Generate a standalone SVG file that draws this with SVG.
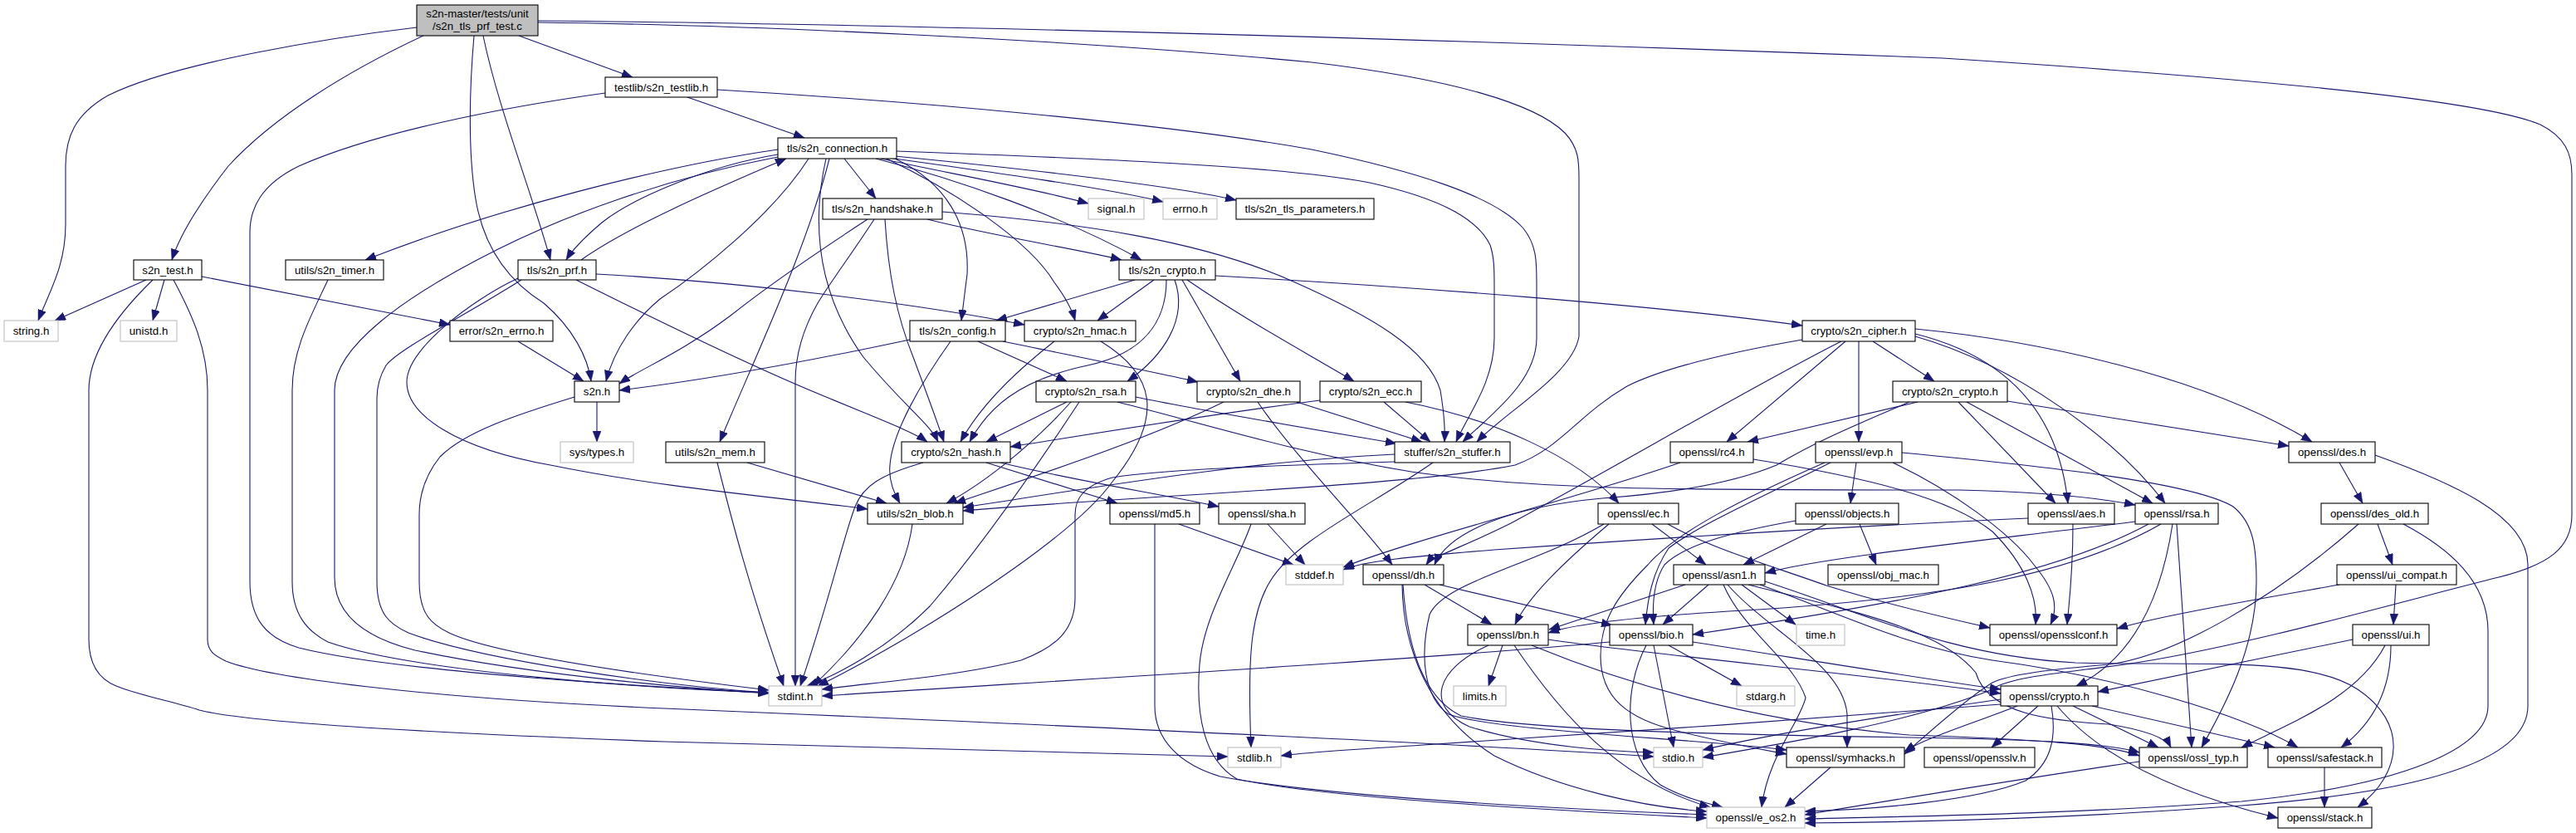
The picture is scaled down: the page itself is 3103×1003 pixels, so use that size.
<svg xmlns="http://www.w3.org/2000/svg" width="3103" height="1003" viewBox="0 0 3103 1003">
<style>
.n rect{fill:#fff;stroke:#000;stroke-width:1.1}
.g rect{fill:#fff;stroke:#bfbfbf;stroke-width:1.1}
text{font-family:"Liberation Sans",Arial,Helvetica,sans-serif;font-size:13.3px;text-anchor:middle;fill:#000}
.e path{fill:none;stroke:#191970;stroke-width:1.1;marker-end:url(#arr)}
</style>
<defs>
<marker id="arr" viewBox="0 0 13 10" refX="13" refY="5" markerWidth="13" markerHeight="10" markerUnits="userSpaceOnUse" orient="auto"><path d="M0,0 L13,5 L0,10 Z" fill="#191970" stroke="#191970" stroke-width="0.5"/></marker>
</defs>
<rect x="0" y="0" width="3103" height="1003" fill="#fff"/>
<g id="edges" class="e">
<path d="M502,33 C400,45 210,75 130,115 C90,138 79,165 79,200 L79,270 C79,320 60,350 46,386"/>
<path d="M510,43 C420,85 330,140 275,200 C240,245 216,285 207,313"/>
<path d="M571,43 C566,100 563,180 573,240 C583,300 615,340 655,365 C690,395 708,430 712,459"/>
<path d="M582,43 C600,130 640,230 663,313"/>
<path d="M625,43 L762,93"/>
<path d="M648,27 C900,30 1300,48 1580,75 C1750,95 1850,125 1885,160 C1902,178 1902,195 1902,215 L1902,405 C1895,450 1815,495 1779,532"/>
<path d="M648,25 C1000,28 1600,42 2340,70 C2800,100 3000,125 3060,150 C3090,165 3098,185 3098,210 L3098,620 C3098,660 3070,680 3010,695 C2900,722 2700,780 2560,800 C2470,812 2420,815 2395,832 C2300,870 2150,895 2051,912"/>
<path d="M176,337 L66,386"/>
<path d="M198,337 L184,386"/>
<path d="M184,337 C150,370 107,420 107,470 L107,770 C107,800 120,818 140,826 C170,838 210,845 240,855 C300,870 500,882 800,893 C1100,903 1350,908 1479,911"/>
<path d="M209,337 C232,380 250,420 250,470 L250,770 C250,785 260,790 272,796 C320,815 500,840 800,853 C1200,870 1700,892 1992,911"/>
<path d="M243,333 L542,391"/>
<path d="M828,117 L969,166"/>
<path d="M864,108 C1100,122 1400,148 1580,180 C1700,205 1800,235 1835,275 C1851,295 1851,315 1851,340 L1851,407 C1851,460 1795,500 1762,532"/>
<path d="M729,112 C600,130 450,160 360,200 C315,222 301,250 301,280 L301,700 C301,745 320,768 360,780 C480,810 800,828 926,834"/>
<path d="M1017,191 L1055,239"/>
<path d="M1061,191 C1150,210 1250,228 1311,245"/>
<path d="M1070,190 C1200,208 1330,226 1401,243"/>
<path d="M1078,188 C1250,205 1420,225 1489,241"/>
<path d="M1055,191 C1150,215 1280,260 1375,313"/>
<path d="M1080,182 C1300,190 1550,200 1650,220 C1740,240 1780,265 1795,295 C1800,310 1800,325 1800,345 L1800,407 C1800,460 1768,500 1754,532"/>
<path d="M937,186 C850,200 760,240 725,268 C705,285 690,300 682,313"/>
<path d="M937,180 C800,200 600,250 440,313"/>
<path d="M937,189 C800,215 680,260 600,300 C480,360 403,420 403,470 L403,695 C403,740 440,768 500,783 C650,815 850,830 926,835"/>
<path d="M974,191 C930,260 840,330 795,360 C765,385 740,420 730,459"/>
<path d="M999,191 C972,300 905,440 867,532"/>
<path d="M1078,191 C1140,220 1168,270 1165,330 L1158,386"/>
<path d="M1068,191 C1150,230 1240,290 1270,340 C1285,360 1292,375 1295,386"/>
<path d="M995,191 C975,280 990,360 1040,430 C1090,490 1120,510 1130,532"/>
<path d="M1117,264 C1200,285 1300,300 1351,313"/>
<path d="M1045,264 C990,300 930,340 880,380 C820,425 770,445 746,462"/>
<path d="M1053,264 C1030,300 1000,340 985,365 C965,400 958,430 958,460 L958,826"/>
<path d="M1066,264 C1070,330 1080,380 1100,430 C1115,470 1128,505 1137,532"/>
<path d="M1135,255 C1300,268 1450,290 1560,340 C1650,380 1720,420 1735,470 C1740,500 1741,515 1740,532"/>
<path d="M1367,337 L1200,386"/>
<path d="M1390,337 L1322,386"/>
<path d="M1405,337 C1405,385 1380,425 1310,440 C1225,458 1190,492 1168,532"/>
<path d="M1415,337 C1432,385 1400,430 1358,459"/>
<path d="M1424,337 L1494,459"/>
<path d="M1430,337 C1500,385 1565,420 1631,459"/>
<path d="M1464,332 C1700,345 2000,368 2171,392"/>
<path d="M700,313 C760,270 880,220 947,191"/>
<path d="M718,330 C900,340 1100,365 1234,391"/>
<path d="M694,337 C760,370 900,440 1000,480 C1060,505 1100,520 1117,532"/>
<path d="M624,335 C570,360 490,420 490,460 C490,500 550,540 663,560 C800,588 950,600 1045,613"/>
<path d="M628,337 C560,380 480,420 465,440 C456,455 454,470 454,480 L454,700 C454,740 470,752 492,762 C580,795 800,826 926,834"/>
<path d="M624,411 L703,459"/>
<path d="M1096,409 C950,440 830,460 746,470"/>
<path d="M1178,411 L1285,459"/>
<path d="M1208,411 C1300,430 1400,450 1443,460"/>
<path d="M1145,411 C1110,460 1075,520 1072,560 C1070,580 1078,595 1084,606"/>
<path d="M1270,411 C1220,450 1180,490 1157,532"/>
<path d="M1326,411 C1390,450 1405,500 1340,580 C1290,650 1100,770 985,826"/>
<path d="M1285,484 L1188,532"/>
<path d="M1290,484 C1240,540 1180,585 1140,606"/>
<path d="M1346,484 C1450,510 1560,545 1700,568 C1850,590 2000,590 2360,590 C2450,592 2520,598 2572,608"/>
<path d="M1368,478 C1450,495 1600,520 1682,534"/>
<path d="M1300,484 C1250,560 1180,660 1120,730 C1070,780 1010,812 972,826"/>
<path d="M1474,484 C1380,530 1250,572 1150,606"/>
<path d="M1562,484 L1713,532"/>
<path d="M1515,484 C1560,550 1640,630 1677,680"/>
<path d="M1667,484 L1723,532"/>
<path d="M1693,484 C1800,505 1900,550 1950,606"/>
<path d="M1590,482 C1450,500 1300,525 1217,538"/>
<path d="M2171,409 C2050,430 1990,450 1960,465 C1900,500 1880,540 1825,560 C1700,585 1400,595 1160,615"/>
<path d="M2218,411 C2120,460 1950,560 1820,630 C1760,660 1725,670 1718,680"/>
<path d="M2223,411 L2080,532"/>
<path d="M2239,411 L2239,532"/>
<path d="M2256,411 L2330,459"/>
<path d="M2307,396 C2450,410 2650,450 2785,532"/>
<path d="M2307,402 C2420,430 2480,500 2491,606"/>
<path d="M2307,405 C2430,440 2550,530 2608,606"/>
<path d="M2359,484 L2476,606"/>
<path d="M2369,484 L2593,606"/>
<path d="M2418,483 L2757,537"/>
<path d="M2310,484 L2105,532"/>
<path d="M2300,484 C2240,510 2190,530 2140,560 C2080,585 2000,595 1930,600 C1820,610 1745,640 1728,680"/>
<path d="M1680,547 C1500,555 1300,590 1160,611"/>
<path d="M1680,556 C1550,560 1400,565 1340,575 C1305,585 1295,600 1295,620 L1295,720 C1295,760 1270,780 1230,795 C1150,815 1050,822 990,830"/>
<path d="M1726,557 C1650,610 1560,650 1530,700 C1505,740 1503,800 1507,900"/>
<path d="M1099,631 C1090,700 1040,770 979,826"/>
<path d="M1112,557 C1060,572 1040,585 1030,610 C1015,650 1000,720 964,826"/>
<path d="M1188,557 L1346,606"/>
<path d="M1205,557 C1300,580 1400,595 1468,610"/>
<path d="M900,557 L1068,606"/>
<path d="M864,557 C880,620 900,700 944,826"/>
<path d="M719,484 L719,532"/>
<path d="M692,478 C620,500 560,520 530,550 C510,575 505,600 505,620 L505,700 C505,740 520,752 541,762 C600,790 800,816 926,831"/>
<path d="M395,337 C375,380 352,420 352,470 L352,700 C352,740 370,760 395,773 C500,810 800,830 926,834"/>
<path d="M1391,631 L1391,850 C1391,890 1420,920 1470,935 C1600,960 1900,975 2056,981"/>
<path d="M1420,631 L1558,680"/>
<path d="M1507,631 C1490,680 1450,740 1445,800 C1440,860 1450,915 1490,938 C1600,962 1900,977 2056,985"/>
<path d="M1527,631 L1572,680"/>
<path d="M2024,557 C1900,600 1700,650 1618,683"/>
<path d="M2112,553 C2250,575 2350,600 2400,640 C2440,680 2455,720 2452,752"/>
<path d="M2236,557 L2229,606"/>
<path d="M2205,557 C2120,600 2050,630 2010,660 C1990,690 1985,720 1982,752"/>
<path d="M2198,557 C2100,600 2020,640 1985,680 C1945,720 1928,750 1928,790 C1928,840 1960,865 2020,880 C2080,895 2120,902 2152,908"/>
<path d="M2291,545 C2450,560 2640,580 2690,610 C2715,630 2718,660 2718,700 C2718,780 2680,850 2652,900"/>
<path d="M2280,557 C2350,590 2420,640 2450,680 C2475,710 2480,730 2470,752"/>
<path d="M2240,631 L2260,680"/>
<path d="M2200,631 L2100,680"/>
<path d="M2163,627 C2090,640 2030,655 2005,680 C1992,700 1990,725 1992,752"/>
<path d="M1938,631 C1880,680 1840,720 1825,752"/>
<path d="M1990,631 L2055,680"/>
<path d="M1932,631 C1850,680 1740,700 1722,740 C1710,790 1715,840 1745,860 C1800,880 2050,890 2152,903"/>
<path d="M2009,631 C2060,660 2130,680 2200,705 C2280,730 2350,745 2397,756"/>
<path d="M1716,704 L1797,752"/>
<path d="M1734,704 L1942,753"/>
<path d="M1689,704 C1690,780 1720,860 1800,910 C1880,950 1980,972 2056,977"/>
<path d="M1690,704 C1695,780 1715,840 1760,862 C1850,880 2100,885 2300,888 C2450,890 2540,895 2577,906"/>
<path d="M2030,704 L1866,758"/>
<path d="M2058,704 L2003,752"/>
<path d="M2098,704 L2163,752"/>
<path d="M2076,704 C2100,760 2160,795 2175,840 C2168,870 2130,910 2122,972"/>
<path d="M2081,704 C2130,760 2220,800 2225,860 L2225,900"/>
<path d="M2106,704 C2250,740 2340,760 2380,810 C2395,860 2470,868 2540,872 C2590,880 2610,890 2615,900"/>
<path d="M2120,704 C2220,740 2300,780 2400,795 C2550,815 2700,860 2768,900"/>
<path d="M2126,700 C2250,740 2350,790 2500,798 C2650,802 2780,790 2840,830 C2900,870 2895,930 2840,972"/>
<path d="M1810,777 L1793,826"/>
<path d="M1793,777 C1730,805 1715,850 1770,875 C1850,900 1950,905 1992,906"/>
<path d="M1824,777 C1880,860 1950,940 2060,972"/>
<path d="M1845,777 C1950,820 2100,868 2300,885 C2450,890 2540,896 2577,910"/>
<path d="M1865,770 C2000,790 2250,812 2410,835"/>
<path d="M2010,777 L2098,826"/>
<path d="M1992,777 L2016,900"/>
<path d="M1983,777 C1955,830 1955,910 2000,945 C2030,962 2060,968 2075,972"/>
<path d="M2039,773 C2150,790 2300,815 2410,830"/>
<path d="M1939,773 C1700,795 1300,818 990,838"/>
<path d="M2455,850 L2399,900"/>
<path d="M2497,850 L2600,900"/>
<path d="M2520,850 L2740,900"/>
<path d="M2478,850 C2520,900 2600,950 2744,985"/>
<path d="M2471,850 C2478,890 2470,920 2440,940 C2380,965 2250,975 2174,977"/>
<path d="M2410,842 C2300,858 2150,880 2051,903"/>
<path d="M2430,850 C2380,870 2320,888 2294,905"/>
<path d="M2410,848 C2200,865 1900,885 1700,898 C1620,903 1570,906 1543,910"/>
<path d="M2834,770 L2527,833"/>
<path d="M2873,777 C2840,840 2760,870 2700,900"/>
<path d="M2880,777 C2880,830 2860,870 2820,900"/>
<path d="M2886,704 L2883,752"/>
<path d="M2818,704 C2700,725 2600,742 2550,757"/>
<path d="M2864,631 L2882,680"/>
<path d="M2841,631 C2740,720 2620,790 2540,800 C2470,806 2420,812 2400,822 C2370,840 2320,885 2294,908"/>
<path d="M2895,631 C2950,660 2997,700 2997,760 L2997,850 C2997,900 2900,945 2700,965 C2500,980 2300,983 2174,986"/>
<path d="M2818,557 L2846,606"/>
<path d="M2861,548 C2950,580 3045,620 3045,680 L3045,850 C3045,920 2900,955 2700,970 C2500,985 2300,990 2174,991"/>
<path d="M2497,631 C2497,690 2493,720 2490,752"/>
<path d="M2443,624 C2200,635 2000,648 1800,662 C1700,670 1640,676 1618,686"/>
<path d="M2572,628 C2400,650 2200,670 2126,690"/>
<path d="M2588,631 C2480,690 2300,725 2039,764"/>
<path d="M2603,631 C2500,690 2350,720 2100,735 C1980,742 1900,750 1865,762"/>
<path d="M2617,631 C2605,710 2575,790 2501,826"/>
<path d="M2622,631 L2640,900"/>
<path d="M2800,924 L2800,972"/>
<path d="M2205,924 L2150,972"/>
<path d="M2577,917 C2450,935 2300,960 2174,981"/>
</g>
<g id="node-root" class="n"><rect x="502" y="6" width="146" height="37" style="fill:#bfbfbf"/><text x="575" y="21">s2n-master/tests/unit</text><text x="575" y="36">/s2n_tls_prf_test.c</text></g>
<g id="node-testlib" class="n"><rect x="729" y="93" width="135" height="24"/><text x="796.5" y="109.5">testlib/s2n_testlib.h</text></g>
<g id="node-connection" class="n"><rect x="937" y="166" width="143" height="25"/><text x="1008.5" y="183">tls/s2n_connection.h</text></g>
<g id="node-handshake" class="n"><rect x="991" y="239" width="144" height="25"/><text x="1063" y="256">tls/s2n_handshake.h</text></g>
<g id="node-signal" class="g"><rect x="1311" y="239" width="67" height="25"/><text x="1344.5" y="256">signal.h</text></g>
<g id="node-errno" class="g"><rect x="1401" y="239" width="65" height="25"/><text x="1433.5" y="256">errno.h</text></g>
<g id="node-tlsparams" class="n"><rect x="1489" y="239" width="166" height="25"/><text x="1572" y="256">tls/s2n_tls_parameters.h</text></g>
<g id="node-s2ntest" class="n"><rect x="161" y="313" width="82" height="24"/><text x="202" y="329.5">s2n_test.h</text></g>
<g id="node-timer" class="n"><rect x="344" y="313" width="118" height="24"/><text x="403" y="329.5">utils/s2n_timer.h</text></g>
<g id="node-prf" class="n"><rect x="624" y="313" width="94" height="24"/><text x="671" y="329.5">tls/s2n_prf.h</text></g>
<g id="node-tlscrypto" class="n"><rect x="1348" y="313" width="116" height="24"/><text x="1406" y="329.5">tls/s2n_crypto.h</text></g>
<g id="node-string" class="g"><rect x="5" y="386" width="65" height="25"/><text x="37.5" y="403">string.h</text></g>
<g id="node-unistd" class="g"><rect x="145" y="386" width="68" height="25"/><text x="179" y="403">unistd.h</text></g>
<g id="node-s2nerrno" class="n"><rect x="542" y="386" width="124" height="25"/><text x="604" y="403">error/s2n_errno.h</text></g>
<g id="node-config" class="n"><rect x="1096" y="386" width="115" height="25"/><text x="1153.5" y="403">tls/s2n_config.h</text></g>
<g id="node-hmac" class="n"><rect x="1234" y="386" width="134" height="25"/><text x="1301" y="403">crypto/s2n_hmac.h</text></g>
<g id="node-cipher" class="n"><rect x="2171" y="386" width="136" height="25"/><text x="2239" y="403">crypto/s2n_cipher.h</text></g>
<g id="node-s2nh" class="n"><rect x="692" y="459" width="54" height="25"/><text x="719" y="476">s2n.h</text></g>
<g id="node-s2nrsa" class="n"><rect x="1248" y="459" width="120" height="25"/><text x="1308" y="476">crypto/s2n_rsa.h</text></g>
<g id="node-dhe" class="n"><rect x="1442" y="459" width="124" height="25"/><text x="1504" y="476">crypto/s2n_dhe.h</text></g>
<g id="node-ecc" class="n"><rect x="1590" y="459" width="122" height="25"/><text x="1651" y="476">crypto/s2n_ecc.h</text></g>
<g id="node-cryptocrypto" class="n"><rect x="2280" y="459" width="138" height="25"/><text x="2349" y="476">crypto/s2n_crypto.h</text></g>
<g id="node-systypes" class="g"><rect x="675" y="532" width="88" height="25"/><text x="719" y="549">sys/types.h</text></g>
<g id="node-mem" class="n"><rect x="802" y="532" width="119" height="25"/><text x="861.5" y="549">utils/s2n_mem.h</text></g>
<g id="node-hash" class="n"><rect x="1086" y="532" width="131" height="25"/><text x="1151.5" y="549">crypto/s2n_hash.h</text></g>
<g id="node-stuffer" class="n"><rect x="1680" y="532" width="139" height="25"/><text x="1749.5" y="549">stuffer/s2n_stuffer.h</text></g>
<g id="node-rc4" class="n"><rect x="2012" y="532" width="100" height="25"/><text x="2062" y="549">openssl/rc4.h</text></g>
<g id="node-evp" class="n"><rect x="2187" y="532" width="104" height="25"/><text x="2239" y="549">openssl/evp.h</text></g>
<g id="node-des" class="n"><rect x="2757" y="532" width="104" height="25"/><text x="2809" y="549">openssl/des.h</text></g>
<g id="node-blob" class="n"><rect x="1045" y="606" width="115" height="25"/><text x="1102.5" y="623">utils/s2n_blob.h</text></g>
<g id="node-md5" class="n"><rect x="1337" y="606" width="108" height="25"/><text x="1391" y="623">openssl/md5.h</text></g>
<g id="node-sha" class="n"><rect x="1468" y="606" width="104" height="25"/><text x="1520" y="623">openssl/sha.h</text></g>
<g id="node-ec" class="n"><rect x="1925" y="606" width="97" height="25"/><text x="1973.5" y="623">openssl/ec.h</text></g>
<g id="node-objects" class="n"><rect x="2163" y="606" width="124" height="25"/><text x="2225" y="623">openssl/objects.h</text></g>
<g id="node-aes" class="n"><rect x="2443" y="606" width="104" height="25"/><text x="2495" y="623">openssl/aes.h</text></g>
<g id="node-osslrsa" class="n"><rect x="2572" y="606" width="100" height="25"/><text x="2622" y="623">openssl/rsa.h</text></g>
<g id="node-desold" class="n"><rect x="2796" y="606" width="129" height="25"/><text x="2860.5" y="623">openssl/des_old.h</text></g>
<g id="node-stddef" class="g"><rect x="1549" y="680" width="69" height="24"/><text x="1583.5" y="696.5">stddef.h</text></g>
<g id="node-dh" class="n"><rect x="1642" y="680" width="97" height="24"/><text x="1690.5" y="696.5">openssl/dh.h</text></g>
<g id="node-asn1" class="n"><rect x="2016" y="680" width="110" height="24"/><text x="2071" y="696.5">openssl/asn1.h</text></g>
<g id="node-objmac" class="n"><rect x="2202" y="680" width="133" height="24"/><text x="2268.5" y="696.5">openssl/obj_mac.h</text></g>
<g id="node-uicompat" class="n"><rect x="2815" y="680" width="144" height="24"/><text x="2887" y="696.5">openssl/ui_compat.h</text></g>
<g id="node-bn" class="n"><rect x="1768" y="752" width="97" height="25"/><text x="1816.5" y="769">openssl/bn.h</text></g>
<g id="node-bio" class="n"><rect x="1939" y="752" width="100" height="25"/><text x="1989" y="769">openssl/bio.h</text></g>
<g id="node-time" class="g"><rect x="2164" y="752" width="58" height="25"/><text x="2193" y="769">time.h</text></g>
<g id="node-opensslconf" class="n"><rect x="2397" y="752" width="153" height="25"/><text x="2473.5" y="769">openssl/opensslconf.h</text></g>
<g id="node-ui" class="n"><rect x="2834" y="752" width="92" height="25"/><text x="2880" y="769">openssl/ui.h</text></g>
<g id="node-stdint" class="g"><rect x="926" y="826" width="64" height="24"/><text x="958" y="842.5">stdint.h</text></g>
<g id="node-limits" class="g"><rect x="1751" y="826" width="63" height="24"/><text x="1782.5" y="842.5">limits.h</text></g>
<g id="node-stdarg" class="g"><rect x="2092" y="826" width="70" height="24"/><text x="2127" y="842.5">stdarg.h</text></g>
<g id="node-osslcrypto" class="n"><rect x="2410" y="826" width="117" height="24"/><text x="2468.5" y="842.5">openssl/crypto.h</text></g>
<g id="node-stdlib" class="g"><rect x="1479" y="900" width="64" height="24"/><text x="1511" y="916.5">stdlib.h</text></g>
<g id="node-stdio" class="g"><rect x="1992" y="900" width="59" height="24"/><text x="2021.5" y="916.5">stdio.h</text></g>
<g id="node-symhacks" class="n"><rect x="2152" y="900" width="142" height="24"/><text x="2223" y="916.5">openssl/symhacks.h</text></g>
<g id="node-opensslv" class="n"><rect x="2318" y="900" width="133" height="24"/><text x="2384.5" y="916.5">openssl/opensslv.h</text></g>
<g id="node-ossltyp" class="n"><rect x="2577" y="900" width="130" height="24"/><text x="2642" y="916.5">openssl/ossl_typ.h</text></g>
<g id="node-safestack" class="n"><rect x="2732" y="900" width="137" height="24"/><text x="2800.5" y="916.5">openssl/safestack.h</text></g>
<g id="node-eos2" class="g"><rect x="2056" y="972" width="118" height="25"/><text x="2115" y="989">openssl/e_os2.h</text></g>
<g id="node-stack" class="n"><rect x="2744" y="972" width="113" height="25"/><text x="2800.5" y="989">openssl/stack.h</text></g>
</svg>
